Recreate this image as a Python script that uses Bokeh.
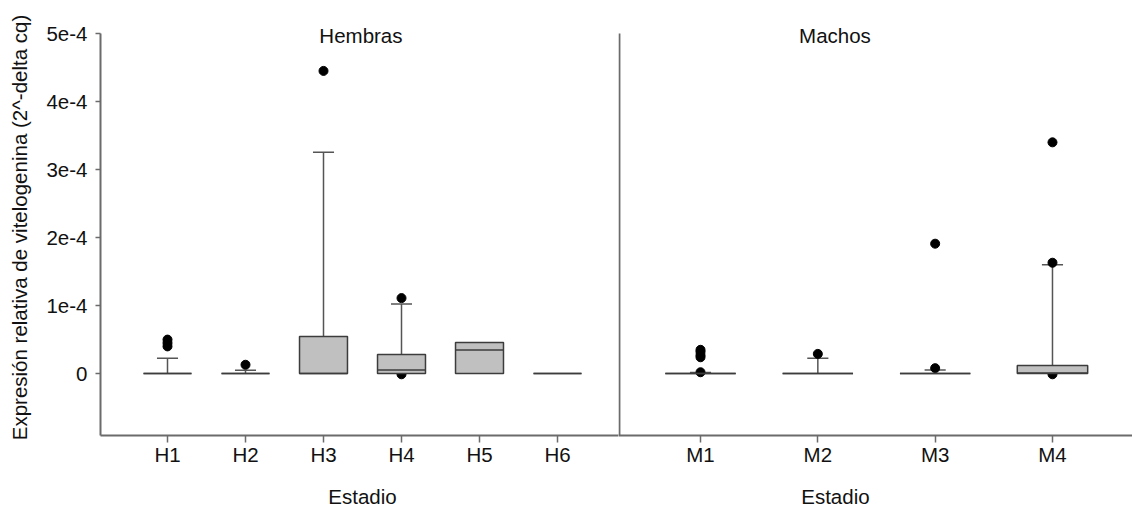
from bokeh.plotting import figure
from bokeh.models import Range1d, FixedTicker, Label, ColumnDataSource
from bokeh.layouts import row, column
from bokeh.core.properties import value
from bokeh.embed import file_html
from bokeh.resources import INLINE

FONT = "Liberation Sans"
FS = "20.5px"

# ---- data ----
h_cats = ["H1", "H2", "H3", "H4", "H5", "H6"]
h_q1 = [0.0, 0.0, 0.0, 0.0, 0.0, 0.0]
h_med = [0.0, 0.0, 0.0, 0.054e-4, 0.348e-4, 0.0]
h_q3 = [0.0, 0.0, 0.544e-4, 0.28e-4, 0.456e-4, 0.0]
h_whisker_hi = [0.225e-4, 0.05e-4, 3.255e-4, 1.025e-4, 0.456e-4, 0.0]
h_outliers = [
    [0.50e-4, 0.45e-4, 0.40e-4],
    [0.13e-4],
    [4.45e-4],
    [1.11e-4, -0.01e-4],
    [],
    [],
]

m_cats = ["M1", "M2", "M3", "M4"]
m_q1 = [0.0, 0.0, 0.0, 0.0]
m_med = [0.0, 0.0, 0.0, 0.01e-4]
m_q3 = [0.0, 0.0, 0.0, 0.118e-4]
m_whisker_hi = [0.015e-4, 0.225e-4, 0.054e-4, 1.60e-4]
m_outliers = [
    [0.35e-4, 0.32e-4, 0.27e-4, 0.24e-4, 0.02e-4],
    [0.29e-4],
    [0.08e-4, 1.91e-4],
    [3.40e-4, 1.63e-4, -0.01e-4],
]

y_ticks = [0.0, 1e-4, 2e-4, 3e-4, 4e-4, 5e-4]
y_tick_labels = ["0", "1e-4", "2e-4", "3e-4", "4e-4", "5e-4"]
y_label = "Expresión relativa de vitelogenina (2^-delta cq)"
x_label = "Estadio"
panel_titles = ["Hembras", "Machos"]

# ---- styling ----
AXIS_COLOR = "#6b6b6b"
BOX_LINE = "#3c3c3c"
WHISKER = "#555555"
BOX_FILL = "#c0c0c0"
TEXT = "#111111"

Y_MIN, Y_AXIS_TOP, Y_MAX = -0.91e-4, 5e-4, 5.206e-4
y_range = Range1d(Y_MIN, Y_MAX)


def style_common(p):
    p.xgrid.visible = False
    p.ygrid.visible = False
    p.outline_line_color = None
    p.background_fill_color = "white"
    p.border_fill_color = "white"
    p.min_border_right = 0


def style_axis(ax):
    ax.axis_line_color = AXIS_COLOR
    ax.axis_line_width = 2
    ax.major_tick_line_color = AXIS_COLOR
    ax.major_tick_line_width = 1.5
    ax.minor_tick_line_color = None
    ax.major_tick_in = 0
    ax.major_label_text_font = FONT
    ax.major_label_text_font_size = FS
    ax.major_label_text_color = TEXT


def draw_boxes(p, cats, q1, med, q3, whi, outs, box_w, cap_w):
    xs = list(range(1, len(cats) + 1))
    wx, wy0, wy1 = [], [], []
    for x, top, hi in zip(xs, q3, whi):
        if hi > top:
            wx.append(x); wy0.append(top); wy1.append(hi)
    ws = ColumnDataSource(dict(x=wx, y0=wy0, y1=wy1,
                               xl=[x - cap_w / 2 for x in wx],
                               xr=[x + cap_w / 2 for x in wx]))
    p.segment(x0="x", y0="y0", x1="x", y1="y1", source=ws,
              line_color=WHISKER, line_width=1.5)
    p.segment(x0="xl", y0="y1", x1="xr", y1="y1", source=ws,
              line_color=WHISKER, line_width=1.5)
    ox, oy = [], []
    for x, vals in zip(xs, outs):
        for v in vals:
            ox.append(x); oy.append(v)
    p.scatter(ox, oy, size=9, color="black", marker="circle")
    bs = ColumnDataSource(dict(x=xs, bottom=q1, top=q3, med=med,
                               xl=[x - box_w / 2 for x in xs],
                               xr=[x + box_w / 2 for x in xs]))
    p.vbar(x="x", bottom="bottom", top="top", width=box_w, source=bs,
           fill_color=BOX_FILL, line_color=BOX_LINE, line_width=1.5)
    p.segment(x0="xl", y0="med", x1="xr", y1="med", source=bs,
              line_color=BOX_LINE, line_width=1.5)
    p.xaxis.ticker = FixedTicker(ticks=xs)
    p.xaxis.major_label_overrides = {x: c for x, c in zip(xs, cats)}
    p.xaxis.major_tick_out = 7
    p.xaxis.major_label_standoff = 0


def panel_title(p, x, text):
    p.add_layout(Label(x=x, y=400, x_units="data", y_units="screen", text=text,
                       text_align="center", text_baseline="alphabetic", text_font=FONT,
                       text_font_size=FS, text_color=TEXT))


def label_strip(width, x_range, x, left_border):
    s = figure(width=width, height=30, x_range=x_range, y_range=Range1d(0, 30),
               x_axis_location=None, y_axis_location=None,
               toolbar_location=None, output_backend="svg")
    style_common(s)
    s.min_border_left = left_border
    s.min_border_top = 0
    s.min_border_bottom = 0
    s.text(x=[x], y=[12], text=[x_label], text_align="center", text_baseline="middle",
           text_font=value(FONT), text_font_size=value(FS), text_color=TEXT)
    return s


# ---- left panel (Hembras) ----
p1 = figure(width=618, height=478, x_range=Range1d(0.141, 6.782), y_range=y_range,
            toolbar_location=None, output_backend="svg")
style_common(p1)
p1.min_border_left = 100
p1.min_border_top = 19
p1.min_border_bottom = 43
style_axis(p1.xaxis[0])
style_axis(p1.yaxis[0])
p1.yaxis.bounds = (Y_MIN, Y_AXIS_TOP)
p1.yaxis.ticker = FixedTicker(ticks=y_ticks)
p1.yaxis.major_label_overrides = {v: s for v, s in zip(y_ticks, y_tick_labels)}
p1.yaxis.major_tick_out = 5
p1.yaxis.major_label_standoff = 8
p1.yaxis.axis_label = y_label
p1.yaxis.axis_label_text_font = FONT
p1.yaxis.axis_label_text_font_size = FS
p1.yaxis.axis_label_text_font_style = "normal"
p1.yaxis.axis_label_text_color = TEXT
p1.yaxis.axis_label_standoff = 12
draw_boxes(p1, h_cats, h_q1, h_med, h_q3, h_whisker_hi, h_outliers, 0.615, 0.27)
panel_title(p1, 3.48, panel_titles[0])

# ---- right panel (Machos) ----
m_start, m_end = 0.301, 4.682
p2 = figure(width=514, height=478, x_range=Range1d(m_start, m_end), y_range=y_range,
            y_axis_location=None, toolbar_location=None, output_backend="svg")
style_common(p2)
p2.min_border_left = 0
p2.min_border_top = 19
p2.min_border_bottom = 43
style_axis(p2.xaxis[0])
# panel separator line (from the axis bottom up to the top tick level)
p2.segment(x0=[m_start + 0.008], y0=[Y_MIN], x1=[m_start + 0.008], y1=[Y_AXIS_TOP],
           line_color=AXIS_COLOR, line_width=2)
draw_boxes(p2, m_cats, m_q1, m_med, m_q3, m_whisker_hi, m_outliers, 0.6, 0.18)
panel_title(p2, 2.146, panel_titles[1])

s1 = label_strip(618, p1.x_range, 3.5, 100)
s2 = label_strip(514, p2.x_range, 2.15, 0)

layout = column(row(p1, p2, spacing=0), row(s1, s2, spacing=0), spacing=0)
open("out.html", "w").write(file_html(layout, INLINE))
